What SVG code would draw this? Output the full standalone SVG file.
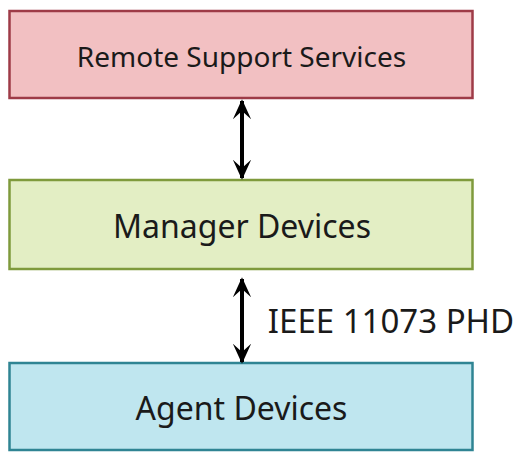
<svg xmlns="http://www.w3.org/2000/svg" width="517" height="454" viewBox="0 0 517 454">
<style>
.box{stroke-width:2.5}
.lbl{font-family:"Noto Sans","Open Sans",sans-serif;fill:#1a1a1a;text-anchor:middle}
.conn{stroke:#000;stroke-width:4;fill:none;marker-start:url(#ah);marker-end:url(#ah)}
</style>
<defs>
<marker id="ah" viewBox="0 0 12 12" refX="11" refY="6" markerWidth="5" markerHeight="5" orient="auto-start-reverse" markerUnits="strokeWidth">
<path d="M0,0.5 L12,6 L0,11.5 L5,6 Z" fill="#000"/>
</marker>
</defs>
<rect width="517" height="454" fill="#fff"/>
<g id="remote">
<rect class="box" x="9.5" y="11" width="463" height="87" fill="#f2c0c2" stroke="#9e3b47"/>
<text class="lbl" x="241.5" y="67" font-size="28">Remote Support Services</text>
</g>
<g id="manager">
<rect class="box" x="9.5" y="180" width="463" height="89" fill="#e3eec4" stroke="#7f9a3c"/>
<text class="lbl" x="242" y="238" font-size="32">Manager Devices</text>
</g>
<g id="agent">
<rect class="box" x="9.5" y="363" width="463" height="87" fill="#bfe6ef" stroke="#2f8493"/>
<text class="lbl" x="241.5" y="420" font-size="32">Agent Devices</text>
</g>
<g id="connectors">
<line class="conn" x1="242" y1="101" x2="242" y2="178"/>
<line class="conn" x1="242" y1="279" x2="242" y2="362"/>
<text class="lbl" x="391" y="333" font-size="33">IEEE 11073 PHD</text>
</g>
</svg>
